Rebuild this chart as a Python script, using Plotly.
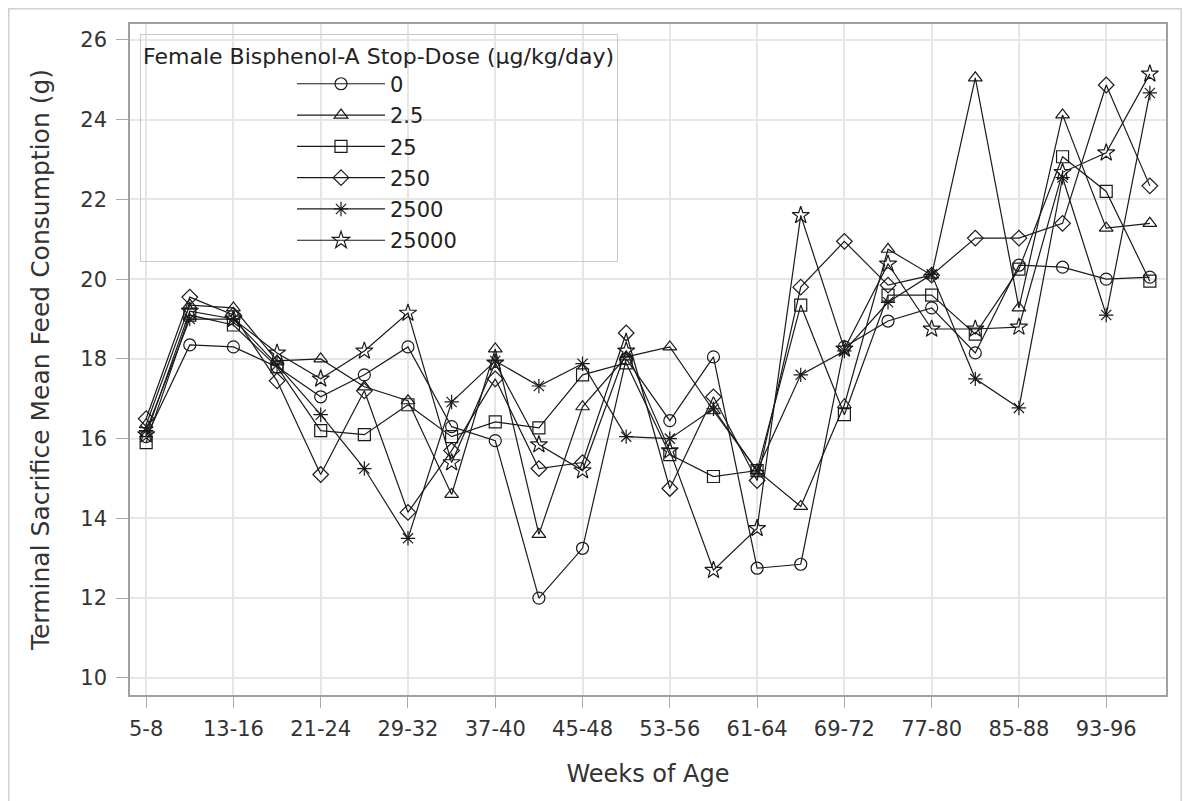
import plotly.graph_objects as go

weeks = ["5-8", "9-12", "13-16", "17-20", "21-24", "25-28", "29-32", "33-36",
         "37-40", "41-44", "45-48", "49-52", "53-56", "57-60", "61-64", "65-68",
         "69-72", "73-76", "77-80", "81-84", "85-88", "89-92", "93-96", "97-100"]
tick_labels = weeks[::2]

dose_0 = [16.05, 18.35, 18.3, 17.8, 17.05, 17.6, 18.3, 16.3, 15.95, 12.0, 13.25, 18.0,
          16.45, 18.05, 12.75, 12.85, 18.3, 18.95, 19.28, 18.15, 20.35, 20.3, 20.0, 20.05]
dose_2_5 = [16.35, 19.35, 19.28, 17.95, 18.0, 17.3, 16.95, 14.6, 18.25, 13.6, 16.8, 18.05,
            18.3, 16.7, 15.2, 14.3, 16.85, 20.75, 20.1, 25.05, 19.28, 24.12, 21.28, 21.4]
dose_25 = [15.9, 19.1, 18.85, 17.8, 16.2, 16.1, 16.85, 16.05, 16.42, 16.27, 17.6, 17.9,
           15.6, 15.05, 15.2, 19.35, 16.6, 19.6, 19.6, 18.62, 20.25, 23.07, 22.2, 19.95]
dose_250 = [16.5, 19.55, 19.1, 17.45, 15.1, 17.2, 14.15, 15.7, 17.5, 15.25, 15.4, 18.65,
            14.75, 17.05, 14.95, 19.8, 20.95, 19.85, 20.1, 21.03, 21.03, 21.4, 24.87, 22.34]
dose_2500 = [16.2, 19.0, 19.0, 17.85, 16.6, 15.25, 13.5, 16.92, 17.95, 17.32, 17.88, 16.05,
             16.0, 16.75, 15.2, 17.6, 18.2, 19.42, 20.12, 17.5, 16.77, 22.55, 19.1, 24.67]
dose_25000 = [16.1, 19.2, 19.0, 18.15, 17.5, 18.2, 19.15, 15.4, 17.9, 15.85, 15.2, 18.2,
              15.7, 12.7, 13.75, 21.6, 18.25, 20.38, 18.75, 18.75, 18.8, 22.68, 23.17, 25.15]

series = [
    ("0", dose_0, "circle-open"),
    ("2.5", dose_2_5, "triangle-up-open"),
    ("25", dose_25, "square-open"),
    ("250", dose_250, "diamond-open"),
    ("2500", dose_2500, "asterisk-open"),
    ("25000", dose_25000, "star-open"),
]

FONT = "DejaVu Sans, Liberation Sans, Arial, sans-serif"
INK = "#1a1a1a"
TXT = "#333333"

W, H = 1174, 793
L, R, T, B = 122, 16, 16, 106
PW, PH = W - L - R, H - T - B

fig = go.Figure()
for name, vals, sym in series:
    fig.add_trace(go.Scatter(
        x=weeks, y=vals, name=name, mode="lines+markers", legendgroup=name,
        line=dict(color=INK, width=1.2),
        marker=dict(symbol=sym, size=13 if sym == "star-open" else 12,
                    color=INK, line=dict(color=INK, width=1.2)),
    ))

fig.update_layout(
    width=W, height=H,
    margin=dict(l=L, r=R, t=T, b=B),
    paper_bgcolor="white", plot_bgcolor="white",
    font=dict(family=FONT, size=21, color=TXT),
    showlegend=True,
    legend=dict(
        x=10 / PW, y=1 - 10 / PH, xanchor="left", yanchor="top",
        bgcolor="rgba(0,0,0,0)", bordercolor="#c8c8c8", borderwidth=1,
        title=dict(text="Female Bisphenol-A Stop-Dose (µg/kg/day)", side="top",
                   font=dict(family=FONT, size=22, color="#222")),
        font=dict(family=FONT, size=21, color="#222"),
        indentation=151, itemwidth=88, tracegroupgap=1,
    ),
    xaxis=dict(
        type="category", categoryorder="array", categoryarray=weeks,
        range=[-0.37, 23.37],
        tickmode="array", tickvals=tick_labels, ticktext=tick_labels,
        ticks="outside", ticklen=11, tickcolor="#aaaaaa",
        showgrid=True, gridcolor="#e6e6e6", gridwidth=1.5,
        showline=True, linecolor="#a0a0a0", linewidth=1.5, mirror=True,
        zeroline=False, ticklabelstandoff=3,
        tickfont=dict(family=FONT, size=21, color=TXT),
        title=dict(text="Weeks of Age", font=dict(family=FONT, size=24, color=TXT), standoff=25),
    ),
    yaxis=dict(
        range=[9.57, 26.4],
        tickmode="array", tickvals=[10, 12, 14, 16, 18, 20, 22, 24, 26],
        ticks="outside", ticklen=12, tickcolor="#aaaaaa",
        showgrid=True, gridcolor="#e6e6e6", gridwidth=1.5,
        showline=True, linecolor="#a0a0a0", linewidth=1.5, mirror=True,
        zeroline=False, ticklabelstandoff=5,
        tickfont=dict(family=FONT, size=21, color=TXT),
        title=dict(text="Terminal Sacrifice Mean Feed Consumption (g)",
                   font=dict(family=FONT, size=25, color=TXT), standoff=24),
    ),
)

# outer image frame at the figure edges
fig.add_shape(type="rect", xref="paper", yref="paper",
              x0=(-L + 0.75) / PW, x1=(W - L - 0.75) / PW,
              y0=(-B - 20) / PH, y1=(PH + T - 0.75) / PH,
              line=dict(color="#d0d0d0", width=1.5), fillcolor="rgba(0,0,0,0)", layer="below")

fig.write_html("out.html")
